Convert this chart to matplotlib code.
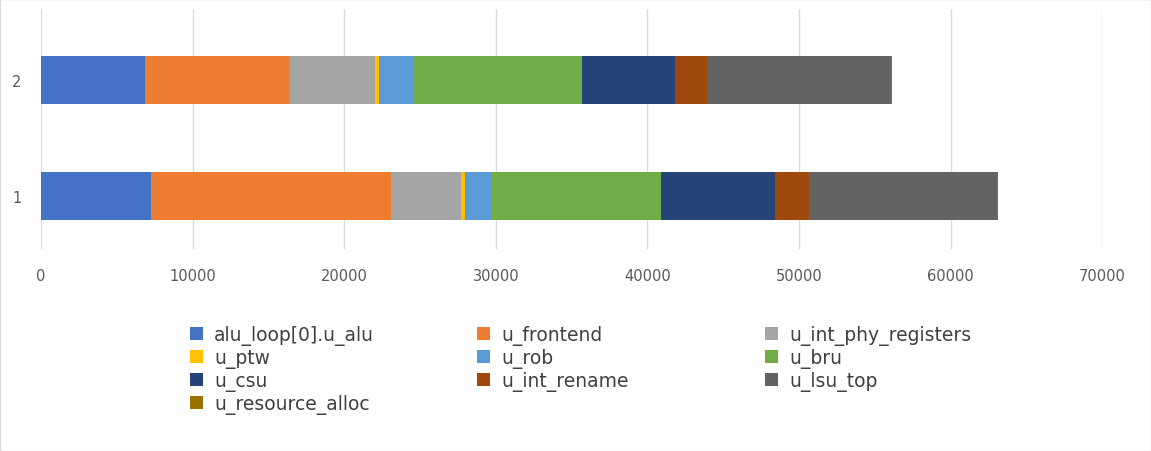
import matplotlib
matplotlib.use("Agg")
import matplotlib.pyplot as plt
import numpy as np

categories = ["1", "2"]
series_names = ["alu_loop[0].u_alu", "u_frontend", "u_int_phy_registers", "u_ptw", "u_rob",
                "u_bru", "u_csu", "u_int_rename", "u_lsu_top", "u_resource_alloc"]
colors = ["#4472C4", "#ED7D31", "#A5A5A5", "#FFC000", "#5B9BD5",
          "#70AD47", "#264478", "#9E480E", "#636363", "#997300"]
# values per series: [bar 1, bar 2]
alu = [7250, 6850]
frontend = [15840, 9590]
int_phy = [4610, 5600]
ptw = [250, 260]
rob = [1720, 2290]
bru = [11230, 11080]
csu = [7520, 6130]
int_rename = [2240, 2110]
lsu_top = [12400, 12140]
resource_alloc = [70, 70]
series = [alu, frontend, int_phy, ptw, rob, bru, csu, int_rename, lsu_top, resource_alloc]

fig = plt.figure(figsize=(11.51, 4.52), dpi=100)
ax = fig.add_axes([0.0356, 0.447, 0.922, 0.531])
y = np.arange(len(categories))
left = np.zeros(len(categories))
handles = []
for name, vals, c in zip(series_names, series, colors):
    h = ax.barh(y, vals, left=left, height=0.42, color=c, label=name, zorder=3)
    handles.append(h)
    left += np.array(vals)
ax.set_yticks(y)
ax.set_yticklabels(categories)
ax.set_xlim(0, 70000)
ax.set_ylim(-0.457, 1.612)
ax.set_xticks(np.arange(0, 70001, 10000))
ax.grid(axis="x", color="#D9D9D9", linewidth=1, zorder=0)
for s in ax.spines.values():
    s.set_visible(False)
ax.tick_params(length=0, labelsize=10.5, colors="#595959")
ax.tick_params(axis="x", pad=14)
ax.tick_params(axis="y", pad=14)

xs = [0.150, 0.400, 0.650]
for col in range(3):
    idx = list(range(col, len(series_names), 3))
    fig.legend([handles[i] for i in idx], [series_names[i] for i in idx],
               loc="upper left", bbox_to_anchor=(xs[col], 0.315), frameon=False,
               fontsize=13.5, handlelength=0.7, handleheight=0.7,
               labelspacing=0.15, handletextpad=0.6, labelcolor="#404040")
fig.patches.append(plt.Rectangle((0, 0), 1, 1, transform=fig.transFigure, fill=False,
                                 edgecolor="#D9D9D9", linewidth=1))
fig.savefig("out.png", dpi=100)
